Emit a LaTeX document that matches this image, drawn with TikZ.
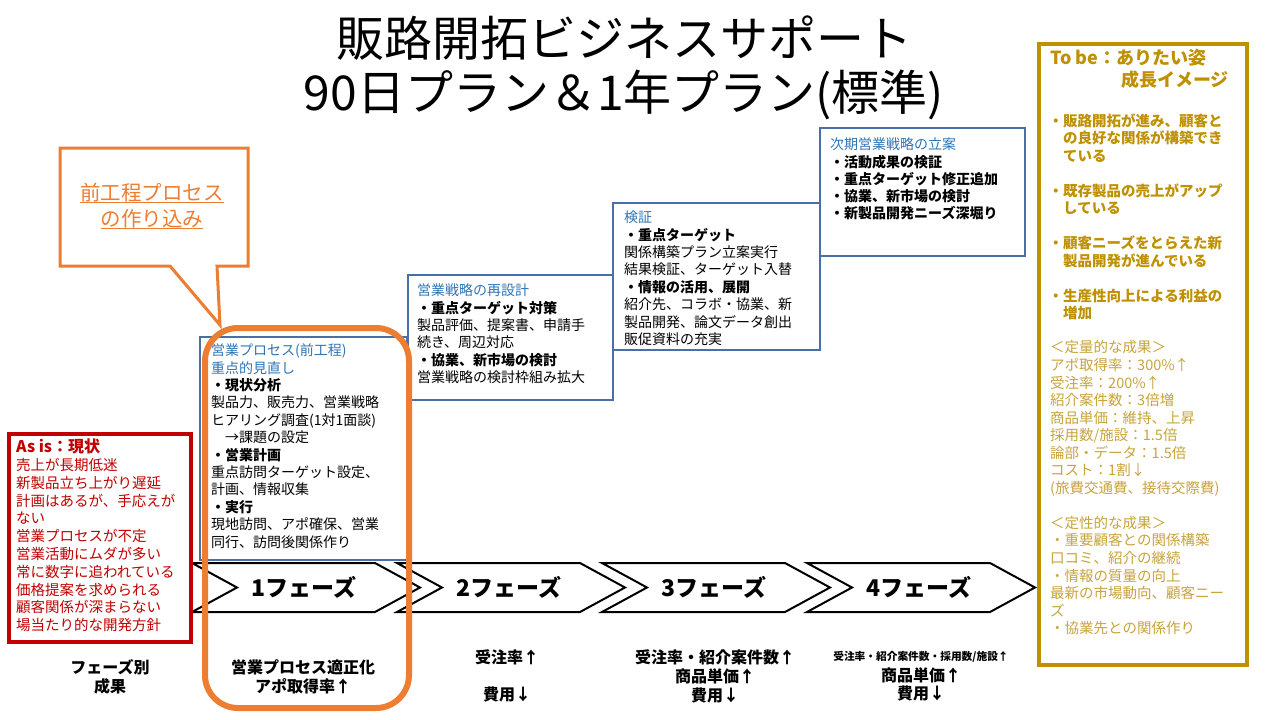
\documentclass[tikz,border=0pt]{standalone}
\usepackage{fontspec}
\setmainfont{Noto Sans CJK JP}
\newcommand\jfs[2]{\fontsize{#1}{#2}\selectfont}
\definecolor{bblue}{HTML}{4A6FA8}
\definecolor{hblue}{HTML}{2E75B6}
\definecolor{orng}{HTML}{ED7D31}
\definecolor{rd}{HTML}{C00000}
\definecolor{gold}{HTML}{BF9000}
\definecolor{lgold}{HTML}{C8A43C}
\begin{document}
\begin{tikzpicture}[x=1pt,y=-1pt,
  bbox/.style={draw=bblue,line width=2.9,fill=white,anchor=north west,inner sep=0,outer sep=0},
  txt/.style={inner sep=0,align=left,anchor=north west},
  chev/.style={draw=black,line width=2,fill=white,line join=miter},
  chevtxt/.style={inner sep=0,font=\jfs{23}{23}\bfseries},
  res/.style={inner sep=0,align=center,font=\jfs{16}{19}\bfseries}]
\useasboundingbox (0,0) rectangle (1280,720);
\fill[white] (0,0) rectangle (1280,720);

% title
\node[inner sep=0,font=\jfs{48}{57}] (title1) at (624,38) {販路開拓ビジネスサポート};
\node[inner sep=0,font=\jfs{48}{57}] (title2) at (624,95) {90日プラン＆1年プラン(標準)};

% chevrons
\foreach \L/\pn in {192/1,397/2,602/3,807/4}{
  \draw[chev] (\L,563) -- ++(183,0) -- ++(45,24.5) -- ++(-45,24.5) -- ++(-183,0) -- ++(45,-24.5) -- cycle;
  \node[chevtxt] (ph\pn) at (\L+112,587.5) {{\pn}フェーズ};
}

% step boxes
\node[bbox,minimum width=207,minimum height=223] (b1) at (200,337) {};
\node[bbox,minimum width=205,minimum height=125] (b2) at (408,275) {};
\node[bbox,minimum width=207,minimum height=147] (b3) at (613,203) {};
\node[bbox,minimum width=205,minimum height=128] (b4) at (820,128) {};

\node[txt,font=\jfs{14}{17.4}] (t1) at (211,343.7) {{\color{hblue}営業プロセス(前工程)}\\{\color{hblue}重点的見直し}\\\textbf{・現状分析}\\製品力、販売力、営業戦略\\ヒアリング調査(1対1面談)\\　→課題の設定\\\textbf{・営業計画}\\重点訪問ターゲット設定、\\計画、情報収集\\\textbf{・実行}\\現地訪問、アポ確保、営業\\同行、訪問後関係作り};

\node[txt,font=\jfs{14}{17.4}] (t2) at (417,283.7) {{\color{hblue}営業戦略の再設計}\\\textbf{・重点ターゲット対策}\\製品評価、提案書、申請手\\続き、周辺対応\\\textbf{・協業、新市場の検討}\\営業戦略の検討枠組み拡大};

\node[txt,font=\jfs{14}{17.4}] (t3) at (624,210.7) {{\color{hblue}検証}\\\textbf{・重点ターゲット}\\関係構築プラン立案実行\\結果検証、ターゲット入替\\\textbf{・情報の活用、展開}\\紹介先、コラボ・協業、新\\製品開発、論文データ創出\\販促資料の充実};

\node[txt,font=\jfs{14}{17.3}] (t4) at (830,137.7) {{\color{hblue}次期営業戦略の立案}\\\textbf{・活動成果の検証}\\\textbf{・重点ターゲット修正追加}\\\textbf{・協業、新市場の検討}\\\textbf{・新製品開発ニーズ深堀り}};

% as is
\node[draw=rd,line width=3.5,fill=white,minimum width=182,minimum height=208,anchor=north west,inner sep=0] (asis) at (7,432) {};
\node[txt,font=\jfs{14.5}{17.8},text=rd] (asist) at (16,438.8) {{\jfs{16}{17.8}\bfseries As is：現状}\\売上が長期低迷\\新製品立ち上がり遅延\\計画はあるが、手応えが\\ない\\営業プロセスが不定\\営業活動にムダが多い\\常に数字に追われている\\価格提案を求められる\\顧客関係が深まらない\\場当たり的な開発方針};

% to be
\node[draw=gold,line width=3.5,minimum width=208,minimum height=621,anchor=north west,inner sep=0] (tobe) at (1037,42) {};
\node[inner sep=0,anchor=west,font=\jfs{18}{22}\bfseries,text=gold] (tb1) at (1050,58) {To be：ありたい姿};
\node[inner sep=0,anchor=west,font=\jfs{18}{22}\bfseries,text=gold] (tb2) at (1121,80) {成長イメージ};
\node[txt,font=\jfs{14.5}{17.5}\bfseries,text=gold] (tb3) at (1063,113.5) {\llap{・}販路開拓が進み、顧客と\\の良好な関係が構築でき\\ている\\[17.5pt]\llap{・}既存製品の売上がアップ\\している\\[17.5pt]\llap{・}顧客ニーズをとらえた新\\製品開発が進んでいる\\[17.5pt]\llap{・}生産性向上による利益の\\増加};
\node[txt,font=\jfs{14.5}{17.55},text=lgold] (tb4) at (1050,340.5) {＜定量的な成果＞\\アポ取得率：300\%↑\\受注率：200\%↑\\紹介案件数：3倍増\\商品単価：維持、上昇\\採用数/施設：1.5倍\\論部・データ：1.5倍\\コスト：1割↓\\(旅費交通費、接待交際費)\\[17.55pt]＜定性的な成果＞\\・重要顧客との関係構築\\口コミ、紹介の継続\\・情報の質量の向上\\最新の市場動向、顧客ニー\\ズ\\・協業先との関係作り};

% results
\node[res] (r0) at (110,676.5) {フェーズ別\\成果};
\node[res] (r1) at (303,676.5) {営業プロセス適正化\\アポ取得率↑};
\node[res] (r2a) at (507,657) {受注率↑};
\node[res] (r2b) at (507,694) {費用↓};
\node[res] (r3) at (715,676) {受注率・紹介案件数↑\\商品単価↑\\費用↓};
\node[res,font=\jfs{10.7}{13}\bfseries] (r4a) at (921,657) {受注率・紹介案件数・採用数/施設↑};
\node[res,font=\jfs{16}{18}\bfseries] (r4b) at (921,684) {商品単価↑\\費用↓};

% callout
\draw[orng,line width=3,fill=white,line join=miter] (60,148) -- (248,148) -- (248,266) -- (217,266) -- (220,325) -- (170,266) -- (60,266) -- cycle;
\node[inner sep=0,anchor=base,font=\jfs{20.5}{26},text=orng] (c1) at (152,200) {前工程プロセス};
\node[inner sep=0,anchor=base,font=\jfs{20.5}{26},text=orng] (c2) at (152,226) {の作り込み};
\draw[orng,line width=1.4] ([yshift=-2.5pt]c1.base west) -- ([yshift=-2.5pt]c1.base east);
\draw[orng,line width=1.4] ([yshift=-2.5pt]c2.base west) -- ([yshift=-2.5pt]c2.base east);

% highlight
\node[draw=orng,line width=6,rounded corners=33,minimum width=204,minimum height=380,anchor=north west,inner sep=0] (hl) at (202,325) {};
\end{tikzpicture}
\end{document}
